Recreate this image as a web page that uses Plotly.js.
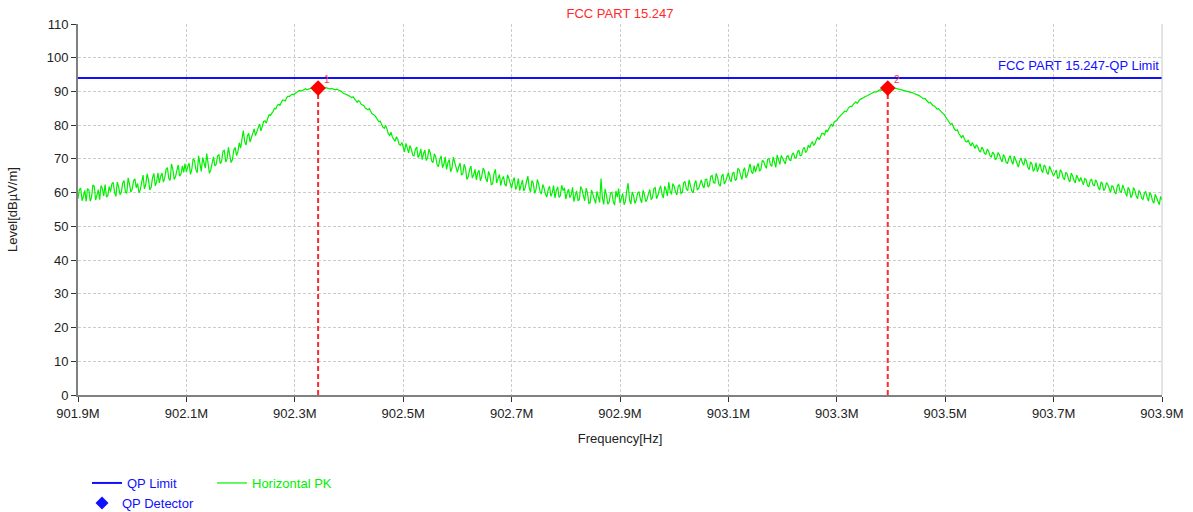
<!DOCTYPE html>
<html>
<head>
<meta charset="utf-8">
<script src="https://cdn.plot.ly/plotly-3.0.1.min.js"></script>
<style>html,body{margin:0;padding:0;background:#fff}#chart{width:1193px;height:512px}</style>
</head>
<body>
<div id="chart"></div>
<script>
// Sweep: 901.9 MHz to 903.9 MHz
const sweepStartMHz = 901.9;
const sweepStepMHz = 0.0025;

// Horizontal PK levels (dBµV/m) at 901.900, 901.905, ... 903.900 MHz
const horizontalPK = [
  58.2, 61.3, 59.0, 57.4, 60.8, 58.6, 61.9, 59.3, 57.9, 61.2,
  62.4, 59.1, 60.3, 63.0, 58.9, 61.7, 60.2, 63.6, 59.8, 62.5,
  61.0, 64.1, 62.7, 60.9, 65.2, 62.4, 63.8, 61.6, 65.7, 63.1,
  62.9, 65.8, 64.3, 67.4, 63.6, 66.9, 64.8, 68.2, 65.5, 66.0,
  66.1, 68.7, 67.0, 69.5, 65.9, 68.2, 70.4, 67.3, 68.9, 66.8,
  70.6, 68.4, 71.2, 69.3, 72.5, 70.0, 71.6, 69.8, 73.4, 72.1,
  73.2, 78.4, 74.1, 77.6, 76.3, 78.9, 78.0, 80.4, 79.6, 81.3,
  82.0, 82.9, 84.1, 84.8, 86.2, 86.7, 87.4, 88.1, 88.5, 89.2,
  89.4, 89.9, 90.3, 90.4, 90.8, 90.7, 91.0, 90.9, 91.1, 91.0,
  91.1, 90.9, 91.0, 90.7, 90.8, 90.5, 90.6, 90.1, 89.4, 89.0,
  88.7, 88.2, 87.9, 86.8, 87.0, 85.9, 85.1, 84.6, 83.9, 83.2,
  82.3, 81.0, 80.4, 79.1, 78.9, 77.0, 76.5, 75.2, 75.8, 74.0,
  73.0, 74.6, 71.8, 72.9, 70.9, 73.5, 71.2, 69.8, 72.6, 70.3,
  71.8, 68.9, 70.6, 67.7, 70.9, 68.4, 66.9, 69.8, 67.3, 68.9,
  66.0, 68.8, 65.6, 67.2, 64.7, 67.9, 65.3, 63.8, 66.6, 64.9,
  66.4, 63.2, 65.1, 62.6, 66.9, 63.9, 62.1, 64.8, 61.9, 64.2,
  61.3, 64.5, 62.0, 60.6, 63.7, 61.4, 64.9, 60.2, 62.8, 60.9,
  62.5, 59.6, 61.3, 58.7, 61.9, 60.0, 58.4, 61.7, 59.1, 60.6,
  58.1, 61.0, 59.4, 57.3, 60.5, 58.0, 60.9, 57.6, 59.9, 57.0,
  59.6, 56.8, 58.9, 64.2, 56.5, 59.3, 57.2, 60.1, 56.3, 58.7,
  56.9, 59.8, 57.4, 62.8, 56.6, 59.1, 57.8, 60.3, 57.0, 59.4,
  58.0, 60.9, 58.6, 61.5, 59.2, 62.0, 58.4, 60.8, 63.1, 59.5,
  61.8, 59.3, 62.4, 60.1, 63.3, 60.7, 62.0, 59.9, 63.6, 61.2,
  63.8, 61.4, 64.0, 62.2, 65.1, 62.8, 64.6, 61.9, 65.5, 63.3,
  65.9, 63.2, 66.1, 64.0, 66.8, 63.9, 67.4, 65.2, 68.5, 65.6,
  66.1, 68.7, 66.9, 69.3, 67.2, 70.1, 67.8, 69.0, 71.2, 68.4,
  70.3, 68.5, 71.0, 69.4, 71.8, 70.2, 72.6, 71.1, 73.4, 72.5,
  73.3, 75.1, 74.6, 76.4, 76.9, 77.5, 78.6, 78.9, 80.3, 80.9,
  81.4, 82.5, 83.3, 84.2, 84.8, 85.6, 86.1, 86.9, 87.2, 87.8,
  88.2, 88.6, 89.1, 89.4, 89.9, 90.1, 90.5, 90.6, 90.9, 91.0,
  91.0, 90.8, 90.9, 90.6, 90.5, 90.3, 90.1, 89.8, 89.6, 89.3,
  88.9, 88.3, 87.8, 87.4, 86.6, 86.1, 85.7, 84.8, 84.4, 83.6,
  82.6, 81.5, 80.2, 79.3, 78.4, 77.6, 76.3, 75.9, 75.0, 74.6,
  74.9, 73.1, 73.6, 72.0, 72.9, 71.4, 72.4, 70.6, 71.5, 70.2,
  71.2, 69.1, 70.5, 68.7, 71.0, 68.4, 69.9, 67.6, 70.2, 68.1,
  69.3, 66.8, 68.5, 67.0, 66.2, 68.6, 65.9, 67.7, 65.4, 66.9,
  64.9, 66.7, 64.6, 66.1, 63.8, 65.6, 63.2, 65.0, 62.9, 64.4,
  64.5, 62.3, 63.9, 61.7, 64.0, 61.9, 63.1, 60.8, 62.7, 61.2,
  62.4, 60.1, 61.8, 59.6, 62.6, 60.0, 61.2, 58.9, 60.9, 59.2,
  60.6, 58.2, 59.9, 57.9, 60.4, 57.5, 59.3, 56.9, 58.6, 56.4,
  57.8
];

// Horizontal PK levels at the in-between sweep points 901.9025, 901.9075, ... 903.8975 MHz
const horizontalPKMid = [
  60.9, 57.6, 60.7, 61.2, 57.5, 62.3, 57.8, 60.9, 62.1, 59.0,
  58.7, 61.8, 62.6, 60.0, 63.1, 59.4, 62.9, 60.1, 64.4, 60.2,
  63.5, 61.4, 59.9, 63.7, 61.1, 65.6, 60.8, 64.4, 62.0, 65.9,
  64.8, 63.1, 66.9, 64.2, 68.5, 63.9, 66.6, 64.9, 67.9, 68.6,
  67.8, 65.4, 70.1, 66.8, 70.9, 66.3, 68.5, 71.6, 65.7, 68.9,
  67.9, 70.9, 68.6, 72.3, 69.1, 73.4, 68.9, 72.7, 71.0, 74.8,
  76.0, 75.2, 76.8, 75.0, 78.2, 76.9, 79.6, 78.3, 81.1, 80.6,
  83.1, 83.4, 85.0, 85.8, 85.9, 87.5, 87.2, 88.6, 88.9, 89.0,
  89.8, 90.2, 90.1, 90.7, 90.5, 90.9, 90.8, 91.1, 90.9, 91.1,
  91.0, 91.1, 90.8, 90.9, 90.6, 90.7, 90.3, 89.6, 89.3, 88.9,
  88.3, 88.4, 87.2, 87.3, 86.2, 85.8, 84.7, 84.9, 83.4, 82.9,
  81.4, 81.2, 79.4, 79.9, 77.5, 77.9, 75.6, 76.6, 74.3, 74.9,
  72.1, 72.8, 74.0, 71.1, 72.8, 70.4, 73.0, 71.6, 69.5, 72.9,
  69.4, 71.5, 68.3, 69.8, 67.4, 70.6, 68.9, 66.2, 70.5, 67.1,
  67.7, 65.2, 68.4, 63.9, 66.8, 64.3, 66.9, 65.9, 63.5, 67.3,
  64.1, 66.3, 62.4, 65.6, 62.9, 65.4, 64.0, 62.5, 65.3, 62.6,
  63.4, 60.9, 64.2, 62.3, 60.5, 63.3, 61.5, 63.6, 59.8, 63.9,
  60.3, 62.4, 59.5, 60.9, 58.9, 62.1, 60.6, 58.6, 62.2, 61.4,
  59.9, 58.5, 61.6, 59.2, 57.6, 61.8, 59.0, 61.3, 56.8, 60.8,
  58.0, 60.4, 57.1, 58.4, 61.1, 56.6, 59.8, 57.4, 60.5, 61.2,
  58.3, 56.4, 60.6, 57.9, 60.2, 56.8, 59.9, 58.1, 60.7, 57.3,
  59.7, 57.9, 61.2, 58.2, 60.9, 59.6, 61.9, 59.0, 60.4, 62.7,
  60.2, 61.9, 59.8, 62.9, 61.0, 63.8, 60.4, 62.6, 60.9, 62.3,
  62.1, 63.9, 61.6, 64.8, 63.0, 65.7, 62.4, 64.9, 62.6, 64.7,
  64.0, 65.7, 63.6, 67.2, 65.1, 66.5, 64.4, 67.0, 66.2, 68.0,
  67.6, 66.4, 69.5, 68.1, 69.9, 68.3, 70.6, 67.5, 69.7, 71.0,
  69.2, 70.6, 69.8, 71.3, 70.4, 72.1, 70.9, 72.8, 71.9, 74.1,
  74.5, 74.0, 75.8, 75.7, 77.6, 77.1, 78.0, 79.8, 79.6, 81.2,
  82.1, 82.8, 83.9, 84.0, 85.3, 85.5, 86.6, 86.5, 87.6, 87.9,
  88.5, 88.8, 89.3, 89.7, 89.8, 90.4, 90.3, 90.8, 90.8, 91.1,
  90.9, 91.0, 90.7, 90.7, 90.4, 90.3, 89.9, 89.8, 89.4, 89.2,
  88.7, 88.0, 87.9, 86.9, 86.8, 85.8, 85.2, 84.9, 83.8, 83.3,
  82.0, 80.6, 80.5, 78.7, 78.6, 76.8, 77.0, 75.2, 75.6, 73.8,
  73.9, 74.2, 72.5, 73.5, 71.6, 72.8, 70.9, 72.0, 69.7, 71.9,
  70.0, 71.3, 69.0, 70.2, 69.3, 70.8, 68.5, 69.4, 68.8, 70.1,
  67.5, 69.1, 66.3, 68.9, 67.4, 66.7, 68.2, 66.0, 67.8, 65.6,
  65.9, 64.2, 66.8, 64.5, 66.0, 63.9, 65.8, 63.7, 65.2, 63.3,
  63.0, 64.2, 62.1, 63.5, 62.4, 63.8, 61.5, 63.2, 60.6, 63.0,
  61.3, 62.0, 60.2, 61.9, 60.4, 62.3, 59.7, 61.6, 58.5, 61.5,
  59.0, 60.7, 58.4, 59.8, 58.6, 60.0, 57.6, 59.5, 57.3, 58.9
];

// QP limit
const limitFreqs = [901.9, 903.9];
const limitLevels = [94, 94];

// QP detector markers
const markerFreqs = [902.343, 903.394];
const markerLevels = [91.0, 91.0];
const markerLabels = ["1", "2"];

// Axis ticks
const xTickVals = [901.9, 902.1, 902.3, 902.5, 902.7, 902.9, 903.1, 903.3, 903.5, 903.7, 903.9];
const xTickLabels = ["901.9M", "902.1M", "902.3M", "902.5M", "902.7M", "902.9M", "903.1M", "903.3M", "903.5M", "903.7M", "903.9M"];

const font = "Liberation Sans, Arial, sans-serif";
const BLUE = "#1010ff", GREEN = "#00f000", RED = "#ff0000";

// merge the two sets of sweep points in frequency order
const pkLevels = [];
horizontalPK.forEach((v, i) => { pkLevels.push(v); if (i < horizontalPKMid.length) pkLevels.push(horizontalPKMid[i]); });

// dashed drop lines from markers
const dropX = [], dropY = [];
markerFreqs.forEach((f, i) => { dropX.push(f, f, null); dropY.push(0, markerLevels[i], null); });

const traces = [
  {
    type: "scatter", mode: "lines", name: '<span style="color:' + GREEN + '">Horizontal PK</span>',
    x0: sweepStartMHz, dx: sweepStepMHz, y: pkLevels,
    line: {color: GREEN, width: 1.2}, legend: "legend", hoverinfo: "skip"
  },
  {
    type: "scatter", mode: "lines", name: '<span style="color:' + BLUE + '">QP Limit</span>',
    x: limitFreqs, y: limitLevels, line: {color: BLUE, width: 2}, legend: "legend", legendrank: 1
  },
  {
    type: "scatter", mode: "lines", x: dropX, y: dropY, showlegend: false,
    line: {color: "#ff2a2a", width: 2, dash: "5px,3px"}
  },
  {
    type: "scatter", mode: "markers", x: markerFreqs, y: markerLevels, showlegend: false,
    marker: {symbol: "diamond", size: 12, color: RED}
  },
  {
    type: "scatter", mode: "markers", name: '<span style="color:' + BLUE + '">QP Detector</span>',
    x: [null], y: [null], marker: {symbol: "diamond", size: 10, color: BLUE}, legend: "legend2"
  }
];

const annotations = markerFreqs.map((f, i) => ({
  x: f, y: markerLevels[i], xref: "x", yref: "y", text: markerLabels[i], showarrow: false,
  xshift: 9, yshift: 9, font: {family: font, size: 10, color: "#ff4040"}
}));
annotations.push({
  x: 1, xref: "paper", xanchor: "right", y: 97.6, yref: "y", yanchor: "middle",
  text: "FCC PART 15.247-QP Limit", showarrow: false, xshift: -1,
  font: {family: font, size: 13, color: BLUE}
});

const axisCommon = {
  showgrid: true, gridcolor: "#cccccc", griddash: "3px,2px", gridwidth: 1,
  showline: true, linecolor: "#808080", linewidth: 2,
  ticks: "outside", ticklen: 5, tickcolor: "#333", tickwidth: 1,
  tickfont: {family: font, size: 13, color: "#222"}, zeroline: false
};

const layout = {
  width: 1193, height: 512,
  margin: {l: 78, r: 31, t: 24, b: 117},
  paper_bgcolor: "#fff", plot_bgcolor: "#fff",
  font: {family: font, size: 13, color: "#222"},
  title: {text: "FCC PART 15.247", font: {family: font, size: 13, color: "#ff2a2a"},
          x: 0.5, xref: "paper", y: 1 - 13 / 512, yref: "container", yanchor: "middle"},
  xaxis: Object.assign({}, axisCommon, {
    range: [901.9, 903.9], tickmode: "array", tickvals: xTickVals, ticktext: xTickLabels,
    title: {text: "Frequency[Hz]", font: {family: font, size: 13, color: "#222"}, standoff: 14}
  }),
  yaxis: Object.assign({}, axisCommon, {
    range: [0, 110], dtick: 10, tick0: 0,
    title: {text: "Level[dBµV/m]", font: {family: font, size: 13, color: "#222"}, standoff: 26}
  }),
  shapes: [
    {type: "line", xref: "paper", yref: "paper", x0: 1, x1: 1, y0: 0, y1: 1, line: {color: "#c8c8c8", width: 1}}
  ],
  annotations: annotations,
  showlegend: true,
  legend: {orientation: "h", xref: "container", x: 87 / 1193, xanchor: "left",
           yref: "container", y: 1 - 483 / 512, yanchor: "middle",
           font: {family: font, size: 13}, entrywidth: 80, bgcolor: "rgba(0,0,0,0)", traceorder: "normal"},
  legend2: {orientation: "h", xref: "container", x: 82 / 1193, xanchor: "left",
            yref: "container", y: 1 - 503 / 512, yanchor: "middle",
            font: {family: font, size: 13}, bgcolor: "rgba(0,0,0,0)"}
};

Plotly.newPlot("chart", traces, layout, {staticPlot: true, displayModeBar: false});
</script>
</body>
</html>
